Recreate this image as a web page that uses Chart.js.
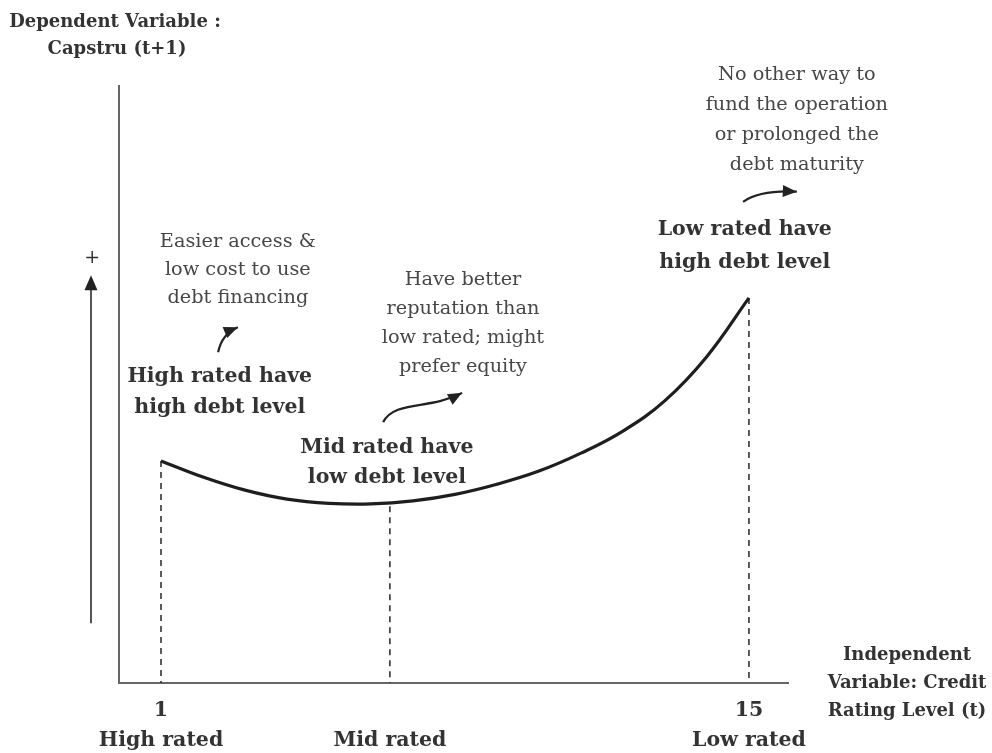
<!DOCTYPE html>
<html>
<head>
<meta charset="utf-8">
<script src="https://cdn.jsdelivr.net/npm/chart.js@4.4.1/dist/chart.umd.min.js"></script>
<style>
  html, body { margin: 0; padding: 0; background: #fff; }
</style>
</head>
<body>
<canvas id="capCurve" width="992" height="753"></canvas>
<script>
// ---- data ----------------------------------------------------------------
const ratingLevel = [1, 2, 3, 4, 5, 6, 7, 8, 9, 10, 11, 12, 13, 14, 15];
const capstru = [3.72, 3.45, 3.23, 3.08, 3.01, 3.00, 3.05, 3.16, 3.33, 3.55, 3.85, 4.22, 4.73, 5.47, 6.45];

// dropped (dashed) lines from the curve to the axis
const markLevels = [1, 6.45, 15];
const markCapstru = [3.72, 2.96, 6.45];

// tick labels under the axis
const tickNumbers = ['1', '', '15'];
const tickGroups = ['High rated', 'Mid rated', 'Low rated'];

// notes on the chart
const noteLines = [
    ['Easier access &', 'low cost to use', 'debt financing'],
    ['High rated have', 'high debt level'],
    ['Have better', 'reputation than', 'low rated; might', 'prefer equity'],
    ['Mid rated have', 'low debt level'],
    ['No other way to', 'fund the operation', 'or prolonged the', 'debt maturity'],
    ['Low rated have', 'high debt level']
];
const yTitle = ['Dependent Variable :', 'Capstru (t+1)'];
const xTitle = ['Independent', 'Variable: Credit', 'Rating Level (t)'];

const SERIF = '"DejaVu Serif", "Liberation Serif", serif';

//=======================================================================================
// where the notes sit (in axis units) ==================================================
//=======================================================================================
const notePlace = [
    { x: 2.83, y: 7.39, gap: 28, bold: false },
    { x: 2.40, y: 5.13, gap: 31, bold: true },
    { x: 8.19, y: 6.75, gap: 29, bold: false },
    { x: 6.38, y: 3.94, gap: 30, bold: true },
    { x: 16.14, y: 10.18, gap: 30, bold: false },
    { x: 14.90, y: 7.60, gap: 33, bold: true }
];

// little curved arrows: start, control(s), end  (axis units)
const curlArrows = [
    [[2.36, 5.54], [2.45, 5.85], [2.83, 5.96]],
    [[6.29, 4.37], [6.57, 4.74], [7.40, 4.57], [8.17, 4.86]],
    [[14.86, 8.06], [15.26, 8.26], [16.14, 8.23]]
];

function arrowHead(ctx, fx, fy, tx, ty, len, wid) {
    let a = Math.atan2(ty - fy, tx - fx);
    ctx.beginPath();
    ctx.moveTo(tx, ty);
    ctx.lineTo(tx - len * Math.cos(a) + wid / 2 * Math.sin(a), ty - len * Math.sin(a) - wid / 2 * Math.cos(a));
    ctx.lineTo(tx - len * Math.cos(a) - wid / 2 * Math.sin(a), ty - len * Math.sin(a) + wid / 2 * Math.cos(a));
    ctx.closePath();
    ctx.fill();
}

const notesPlugin = {
    id: 'notes',
    afterDraw(chart) {
        let ctx = chart.ctx;
        let sx = chart.scales.x, sy = chart.scales.y;
        let px = (v) => sx.getPixelForValue(v);
        let py = (v) => sy.getPixelForValue(v);

        ctx.save();
        ctx.textAlign = 'center';
        ctx.textBaseline = 'middle';

        // notes
        noteLines.forEach((lines, i) => {
            let p = notePlace[i];
            ctx.font = (p.bold ? 'bold 20.5px ' : '19.3px ') + SERIF;
            ctx.fillStyle = p.bold ? '#333' : '#474747';
            lines.forEach((t, k) => ctx.fillText(t, px(p.x), py(p.y) + k * p.gap));
        });

        // axis titles
        ctx.font = 'bold 18px ' + SERIF;
        ctx.fillStyle = '#333';
        ctx.fillText(yTitle[0], 115, 22);
        ctx.fillText(yTitle[1], 117, 49);
        xTitle.forEach((t, k) => ctx.fillText(t, 907, 655 + k * 28));

        // curled arrows
        ctx.strokeStyle = '#222';
        ctx.fillStyle = '#222';
        ctx.lineWidth = 2.2;
        curlArrows.forEach((a) => {
            let pts = a.map((q) => [px(q[0]), py(q[1])]);
            ctx.beginPath();
            ctx.moveTo(pts[0][0], pts[0][1]);
            if (pts.length == 3) ctx.quadraticCurveTo(pts[1][0], pts[1][1], pts[2][0], pts[2][1]);
            else ctx.bezierCurveTo(pts[1][0], pts[1][1], pts[2][0], pts[2][1], pts[3][0], pts[3][1]);
            ctx.stroke();
            let n = pts.length;
            arrowHead(ctx, pts[n - 2][0], pts[n - 2][1], pts[n - 1][0], pts[n - 1][1], 14, 12);
        });

        // the "+" arrow left of the axis
        ctx.strokeStyle = '#555';
        ctx.fillStyle = '#222';
        ctx.lineWidth = 2;
        ctx.beginPath();
        ctx.moveTo(px(-0.667), py(1.0));
        ctx.lineTo(px(-0.667), py(6.6));
        ctx.stroke();
        arrowHead(ctx, px(-0.667), py(1.0), px(-0.667), py(6.83), 15, 13);
        ctx.font = '19px ' + SERIF;
        ctx.fillStyle = '#333';
        ctx.fillText('+', px(-0.64), py(7.11));

        ctx.restore();
    }
};

//=======================================================================================
// chart ================================================================================
//=======================================================================================
let dashSets = markLevels.map((lv, i) => ({
    data: [{ x: lv, y: markCapstru[i] }, { x: lv, y: 0 }],
    borderColor: '#333',
    borderWidth: 1.6,
    borderDash: [6, 5],
    pointRadius: 0,
    fill: false
}));

let curveSet = {
    data: ratingLevel.map((v, i) => ({ x: v, y: capstru[i] })),
    borderColor: '#1e1e1e',
    borderWidth: 3.2,
    pointRadius: 0,
    tension: 0.4,
    fill: false
};

let chartObj = new Chart(document.getElementById('capCurve'), {
    type: 'line',
    data: { datasets: [curveSet].concat(dashSets) },
    options: {
        responsive: false,
        animation: false,
        layout: { padding: { left: 119, right: 204, top: 86, bottom: 0 } },
        plugins: { legend: { display: false }, tooltip: { enabled: false }, title: { display: false } },
        scales: {
            x: {
                type: 'linear',
                min: 0,
                max: 15.93,
                grid: { display: false, drawTicks: false },
                border: { display: true, color: '#666', width: 2 },
                afterBuildTicks: (s) => { s.ticks = markLevels.map((v) => ({ value: v })); },
                afterFit: (s) => { s.height = 70; },
                ticks: {
                    autoSkip: false,
                    maxRotation: 0,
                    padding: 12,
                    color: '#333',
                    font: { family: SERIF, size: 20.5, weight: 'bold', lineHeight: 1.5 },
                    callback: (v, i) => [tickNumbers[i], tickGroups[i]]
                }
            },
            y: {
                type: 'linear',
                min: 0,
                max: 10,
                grid: { display: false, drawTicks: false },
                border: { display: true, color: '#666', width: 2 },
                ticks: { display: false },
                afterFit: (s) => { s.width = 0; }
            }
        }
    },
    plugins: [notesPlugin]
});
</script>
</body>
</html>
